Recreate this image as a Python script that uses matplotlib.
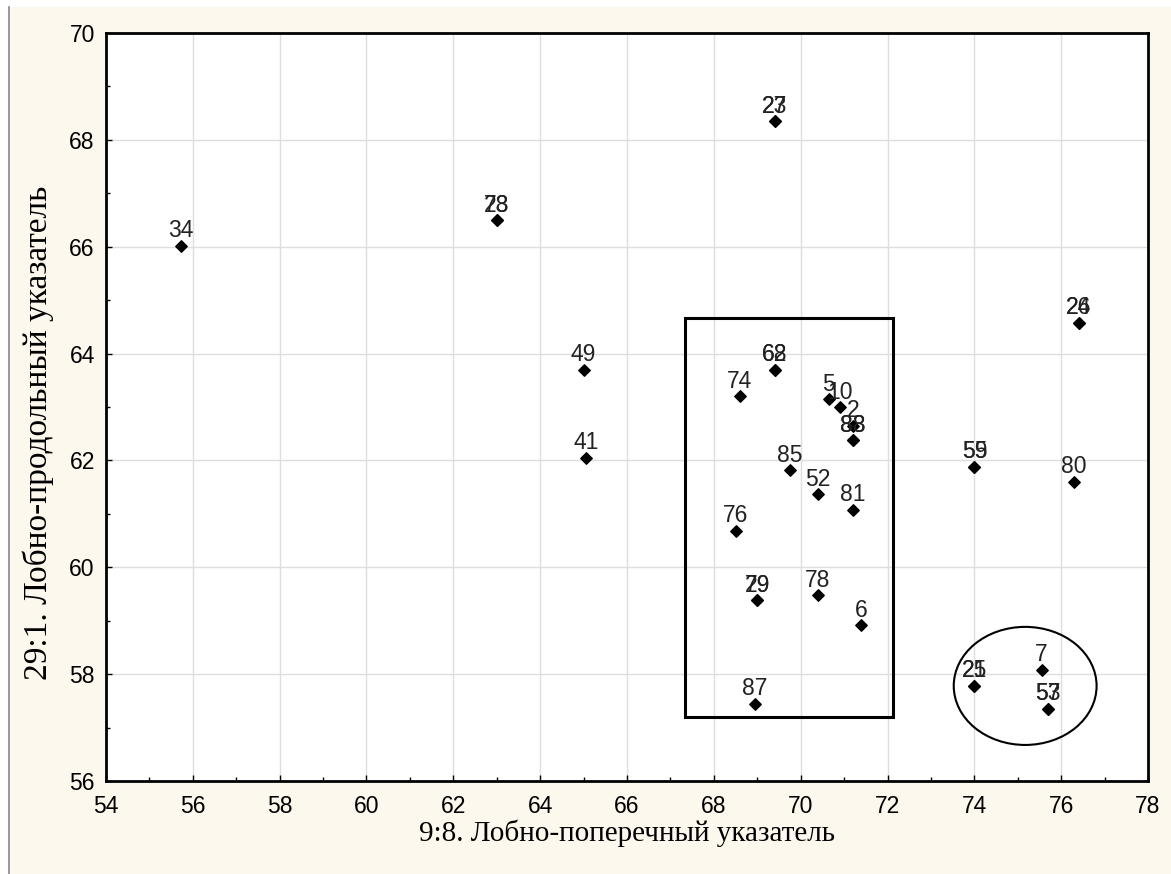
import matplotlib
matplotlib.use("Agg")
import matplotlib.pyplot as plt
from matplotlib.patches import Rectangle, Ellipse
from matplotlib.lines import Line2D
import numpy as np

# Case numbers and their two indices
case_labels = ["27", "23", "73", "28", "34", "24", "26", "49", "41",
               "62", "68", "74", "5", "10", "2", "83", "88", "85", "52",
               "81", "76", "55", "59", "80", "79", "29", "78", "6", "87",
               "21", "25", "7", "53", "57"]
frontal_transverse = [69.4, 69.4, 63.0, 63.0, 55.73, 76.4, 76.4, 65.0, 65.05,
                      69.4, 69.4, 68.6, 70.65, 70.9, 71.2, 71.2, 71.2, 69.75, 70.4,
                      71.2, 68.5, 74.0, 74.0, 76.3, 69.0, 69.0, 70.4, 71.4, 68.95,
                      74.0, 74.0, 75.55, 75.7, 75.7]
frontal_longitudinal = [68.35, 68.35, 66.5, 66.5, 66.02, 64.58, 64.58, 63.7, 62.05,
                        63.7, 63.7, 63.2, 63.15, 63.0, 62.65, 62.38, 62.38, 61.82, 61.37,
                        61.08, 60.68, 61.88, 61.88, 61.6, 59.38, 59.38, 59.48, 58.92, 57.45,
                        57.78, 57.78, 58.08, 57.35, 57.35]

plt.rcParams["font.family"] = ["Liberation Sans", "DejaVu Sans"]

fig = plt.figure(figsize=(11.71, 8.74), dpi=100)
fig.patch.set_facecolor("#fdf8ee")
# white margin strips and the thin frame line on the left
fig.patches.append(Rectangle((0, 0.992), 1, 0.008, transform=fig.transFigure,
                             facecolor="white", edgecolor="none", zorder=0))
fig.patches.append(Rectangle((0, 0), 0.007, 1, transform=fig.transFigure,
                             facecolor="white", edgecolor="none", zorder=0))
fig.lines.append(Line2D([0.0075, 0.0075], [0, 0.992], transform=fig.transFigure,
                        color="#888888", linewidth=1.2))

ax = fig.add_axes([0.0905, 0.1064, 0.8899, 0.8558])
ax.set_facecolor("white")

ax.scatter(frontal_transverse, frontal_longitudinal, marker="D", s=34,
           color="black", zorder=3)
for lab, x, y in zip(case_labels, frontal_transverse, frontal_longitudinal):
    ax.annotate(lab, (x, y), xytext=(0, 2.5), textcoords="offset points",
                ha="center", va="bottom", fontsize=16.5, color="#222222", zorder=4)

ax.add_patch(Rectangle((67.33, 57.2), 4.8, 7.47, fill=False,
                       edgecolor="black", linewidth=2.2, zorder=2))
ax.add_patch(Ellipse((75.17, 57.78), 3.29, 2.21, fill=False,
                     edgecolor="black", linewidth=1.5, zorder=2))

ax.set_xlim(54, 78)
ax.set_ylim(56, 70)
ax.set_xticks(np.arange(54, 79, 2))
ax.set_yticks(np.arange(56, 71, 2))
ax.set_xticks(np.arange(55, 78, 2), minor=True)
ax.set_yticks(np.arange(57, 70, 2), minor=True)
ax.tick_params(which="both", direction="in", labelsize=16.5, colors="black")
ax.tick_params(which="major", length=4, width=1)
ax.tick_params(which="minor", length=3, width=1)
ax.tick_params(axis="x", pad=10)
ax.tick_params(axis="y", pad=8)
ax.grid(True, which="major", color="#dedede", linewidth=1)
ax.set_axisbelow(True)
for sp in ax.spines.values():
    sp.set_linewidth(2)

ax.set_xlabel("9:8. Лобно-поперечный указатель", family=["Liberation Serif", "DejaVu Serif"],
              fontsize=21, labelpad=1)
ax.set_ylabel("29:1. Лобно-продольный указатель", family=["Liberation Serif", "DejaVu Serif"],
              fontsize=24)
ax.yaxis.set_label_coords(-0.05, 0.465)

fig.savefig("out.png", dpi=100, facecolor=fig.get_facecolor())
